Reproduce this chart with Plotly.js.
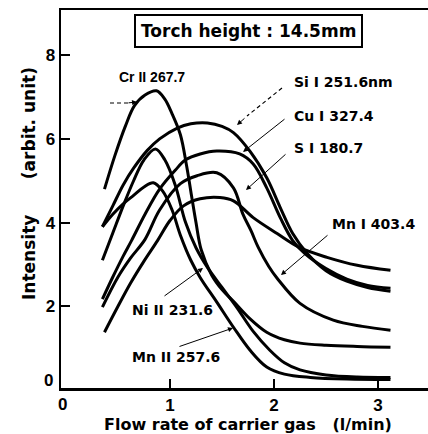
<!DOCTYPE html>
<html>
<head>
<meta charset="utf-8">
<script src="https://cdn.plot.ly/plotly-3.0.1.min.js"></script>
<style>html,body{margin:0;padding:0;background:#fff;}#chart{width:428px;height:434px;}</style>
</head>
<body>
<div id="chart"></div>
<script>
// ---- data (flow rate l/min, intensity arbit. unit) ----
const crX = [0.37,0.47,0.57,0.66,0.76,0.87,0.95,1.02,1.10,1.16,1.20,1.25,1.30,1.40,1.50,1.61,1.77,1.93,2.10,2.25,2.50,2.80,3.12];
const crY = [4.80,5.60,6.30,6.80,7.05,7.15,6.95,6.60,6.10,5.35,4.75,4.00,3.35,2.75,2.40,2.12,1.70,1.38,1.20,1.12,1.07,1.04,1.02];

const niX = [0.35,0.45,0.55,0.65,0.75,0.86,0.95,1.05,1.15,1.25,1.36,1.50,1.64,1.80,1.96,2.10,2.25,2.50,2.80,3.12];
const niY = [3.10,3.75,4.40,5.00,5.50,5.76,5.50,4.90,4.00,3.40,2.93,2.45,1.98,1.40,0.95,0.65,0.48,0.36,0.31,0.30];

const mn2X = [0.35,0.45,0.55,0.65,0.75,0.84,0.93,1.02,1.10,1.20,1.29,1.45,1.61,1.77,1.93,2.10,2.35,2.70,3.12];
const mn2Y = [3.90,4.20,4.45,4.65,4.85,4.95,4.75,4.30,3.70,3.10,2.69,2.10,1.50,0.95,0.55,0.38,0.30,0.26,0.25];

const siX = [0.35,0.45,0.55,0.65,0.78,0.90,1.07,1.20,1.36,1.50,1.61,1.77,1.93,2.06,2.18,2.32,2.50,2.70,2.90,3.12];
const siY = [3.90,4.40,4.90,5.30,5.72,6.00,6.26,6.36,6.38,6.30,6.15,5.70,5.07,4.36,3.74,3.26,2.85,2.60,2.45,2.36];

const cuX = [0.35,0.45,0.55,0.63,0.76,0.90,1.05,1.15,1.29,1.45,1.67,1.80,1.93,2.06,2.18,2.30,2.50,2.70,2.90,3.12];
const cuY = [2.17,2.70,3.20,3.57,4.20,4.80,5.25,5.50,5.64,5.71,5.64,5.40,4.83,4.12,3.57,3.25,2.90,2.65,2.50,2.43];

const sX = [0.35,0.50,0.62,0.76,0.90,1.10,1.26,1.45,1.61,1.70,1.78,1.85,1.95,2.03,2.25,2.57,2.85,3.12];
const sY = [1.98,2.70,3.15,3.60,4.30,4.93,5.12,5.19,4.83,4.21,3.80,3.40,2.95,2.67,2.07,1.67,1.52,1.43];

const mn1X = [0.37,0.50,0.62,0.75,0.88,1.00,1.13,1.29,1.48,1.61,1.80,2.03,2.25,2.51,2.80,3.12];
const mn1Y = [1.38,2.00,2.55,3.08,3.57,4.05,4.40,4.57,4.60,4.52,4.12,3.74,3.40,3.17,2.98,2.86];

const xTicks = [1,2,3];
const yTicks = [2,4,6,8];

const series = [
  {x: crX, y: crY}, {x: niX, y: niY}, {x: mn2X, y: mn2Y},
  {x: siX, y: siY}, {x: cuX, y: cuY}, {x: sX, y: sY}, {x: mn1X, y: mn1Y}
];

const traces = series.map(s => ({
  x: s.x, y: s.y, type: 'scatter', mode: 'lines',
  line: {color: '#000', width: 3, shape: 'spline', smoothing: 1.0},
  hoverinfo: 'skip', showlegend: false
}));

// pixel helpers for annotation placement
const X0 = 66, XS = 104, Y0 = 390, YS = 41.85;
const dx = px => (px - X0) / XS;
const dy = py => (Y0 - py) / YS;

const LIB = 'Liberation Sans, Arial, sans-serif';
const DJV = 'DejaVu Sans, Verdana, sans-serif';
const F = {family: DJV, size: 14, color: '#000'};
const lab = (t, px, py, font) => ({x: dx(px), y: dy(py), xref: 'x', yref: 'y', text: '<b>' + t + '</b>',
  showarrow: false, xanchor: 'left', yanchor: 'middle', font: font || F});
const arr = (x1, y1, x2, y2) => ({x: dx(x2), y: dy(y2), ax: dx(x1), ay: dy(y1), xref: 'x', yref: 'y',
  axref: 'x', ayref: 'y', text: '', showarrow: true, arrowhead: 2, arrowsize: 1, arrowwidth: 1, arrowcolor: '#000'});
const dash = (x1, y1, x2, y2) => ({type: 'line', xref: 'x', yref: 'y', x0: dx(x1), y0: dy(y1), x1: dx(x2), y1: dy(y2),
  line: {color: '#000', width: 1.2, dash: '4px,3px'}});

const annotations = [
  lab('Cr II 267.7', 117, 77, {family: LIB, size: 14, color: '#000'}),
  lab('Si I 251.6nm', 292, 82),
  lab('Cu I 327.4', 292, 116),
  lab('S I 180.7', 292, 148),
  lab('Mn I 403.4', 330, 224),
  lab('Ni II 231.6', 130, 310),
  lab('Mn II 257.6', 130, 357),
  arr(127, 103, 137, 102),
  arr(246, 117, 237, 125),
  arr(286, 118, 243, 152),
  arr(287, 153, 246, 190),
  arr(329, 234, 281, 275),
  arr(163, 297, 203, 268),
  arr(178, 347, 233, 328),
  {x: dx(62), y: 0, xref: 'x', yref: 'paper', text: '<b>0</b>', showarrow: false, yanchor: 'top', yshift: -5,
   font: {family: LIB, size: 17, color: '#000'}},
  {x: 0, y: dy(380), xref: 'paper', yref: 'y', text: '<b>0</b>', showarrow: false, xanchor: 'right', xshift: -6,
   font: {family: LIB, size: 17, color: '#000'}},
  {x: dx(248), y: dy(31), xref: 'x', yref: 'y', text: '<b>Torch height : 14.5mm</b>', showarrow: false,
   font: {family: DJV, size: 17, color: '#000'},
   bordercolor: '#000', borderwidth: 2, borderpad: 5, bgcolor: '#fff'},
  // axis titles
  {x: (248 - 61) / 367, y: -(424 - 388) / 378, xref: 'paper', yref: 'paper', yanchor: 'middle',
   text: '<b>Flow rate of carrier gas   (l/min)</b>', showarrow: false,
   font: {family: DJV, size: 16, color: '#000'}},
  {x: (29 - 61) / 367, y: (388 - 184) / 378, xref: 'paper', yref: 'paper', xanchor: 'center', yanchor: 'middle',
   text: '<b>Intensity      (arbit. unit)</b>', textangle: -90, showarrow: false,
   font: {family: DJV, size: 17, color: '#000'}}
];

const layout = {
  width: 428, height: 434,
  margin: {l: 61, r: 0, t: 10, b: 46},
  paper_bgcolor: '#fff', plot_bgcolor: '#fff',
  font: {family: LIB, color: '#000'},
  xaxis: {
    range: [dx(61), dx(428)], tickvals: xTicks, ticktext: xTicks.map(v => '<b>' + v + '</b>'),
    ticks: 'inside', ticklen: 9, tickwidth: 2, tickcolor: '#000',
    showline: true, linewidth: 2.5, linecolor: '#000', mirror: true,
    showgrid: false, zeroline: false,
    tickfont: {size: 17, family: LIB}
  },
  yaxis: {
    range: [dy(388), dy(10)], tickvals: yTicks, ticktext: yTicks.map(v => '<b>' + v + '</b>'),
    ticks: 'inside', ticklen: 9, tickwidth: 2, tickcolor: '#000',
    showline: true, linewidth: 2.5, linecolor: '#000', mirror: false,
    showgrid: false, zeroline: false,
    tickfont: {size: 17, family: LIB}
  },
  shapes: [dash(110, 103, 128, 103), dash(282, 88, 247, 116)],
  annotations: annotations
};

Plotly.newPlot('chart', traces, layout, {staticPlot: true, displayModeBar: false});
</script>
</body>
</html>
